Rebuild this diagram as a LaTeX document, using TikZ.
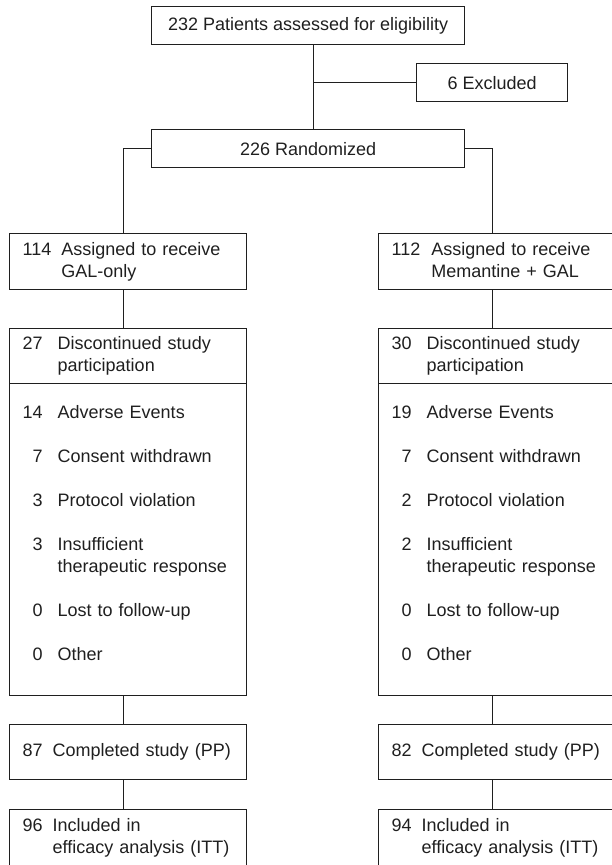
\documentclass[tikz,border=0pt]{standalone}
\usepackage{fontspec}
\setmainfont{Liberation Sans}
\usetikzlibrary{calc}
\definecolor{ink}{HTML}{1F1F1F}
\tikzset{% styles for the boxes and the lines between them
  box/.style={draw=ink, text=ink, line width=1.4pt, anchor=north west,
    inner xsep=13pt, inner ysep=0pt, font=\fontsize{18}{22}\selectfont},
  colbox/.style={box, text width=211pt, align=left},
  link/.style={draw=ink, line width=1.4pt}
}

\begin{document}
\begin{tikzpicture}[x=1pt, y=-1pt]
\useasboundingbox (0,0) rectangle (611,865);

% screening and randomisation
\node[box, minimum width=313pt, minimum height=38pt] (elig) at (151,6) {232 Patients assessed for eligibility};
\node[box, minimum width=151pt, minimum height=38pt] (excl) at (416,63) {6 Excluded};
\node[box, minimum width=313pt, minimum height=38pt] (rand) at (151,129) {226 Randomized};
\coordinate (stem) at ([xshift=5pt]elig.south);

% left arm
\node[colbox, minimum height=56pt] (galAssign) at (9,233)
  {\begin{tabular}{@{}r@{\hspace{10pt}}l@{}}114 & Assigned to receive\\ & GAL-only\end{tabular}};
\node[colbox, minimum height=55pt] (galDisc) at (9,328)
  {\begin{tabular}{@{}r@{\hspace{15pt}}l@{}}27 & Discontinued study\\ & participation\end{tabular}};
\node[colbox, inner ysep=19pt] (galWhy) at (9,383)
  {\begin{tabular}{@{}r@{\hspace{15pt}}l@{}}
   14 & Adverse Events\\[22pt]
   7 & Consent withdrawn\\[22pt]
   3 & Protocol violation\\[22pt]
   3 & Insufficient\\
     & therapeutic response\\[22pt]
   0 & Lost to follow-up\\[22pt]
   0 & Other\\[10pt]
  \end{tabular}};
\node[colbox, minimum height=55pt] (galPP) at (9,724)
  {\begin{tabular}{@{}r@{\hspace{10pt}}l@{}}87 & Completed study (PP)\end{tabular}};
\node[colbox, minimum height=57pt] (galITT) at (9,809)
  {\begin{tabular}{@{}r@{\hspace{10pt}}l@{}}96 & Included in\\ & efficacy analysis (ITT)\end{tabular}};

% right arm
\node[colbox, minimum height=56pt] (memAssign) at (378,233)
  {\begin{tabular}{@{}r@{\hspace{11pt}}l@{}}112 & Assigned to receive\\ & Memantine + GAL\end{tabular}};
\node[colbox, minimum height=55pt] (memDisc) at (378,328)
  {\begin{tabular}{@{}r@{\hspace{15pt}}l@{}}30 & Discontinued study\\ & participation\end{tabular}};
\node[colbox, inner ysep=19pt] (memWhy) at (378,383)
  {\begin{tabular}{@{}r@{\hspace{15pt}}l@{}}
   19 & Adverse Events\\[22pt]
   7 & Consent withdrawn\\[22pt]
   2 & Protocol violation\\[22pt]
   2 & Insufficient\\
     & therapeutic response\\[22pt]
   0 & Lost to follow-up\\[22pt]
   0 & Other\\[10pt]
  \end{tabular}};
\node[colbox, minimum height=55pt] (memPP) at (378,724)
  {\begin{tabular}{@{}r@{\hspace{10pt}}l@{}}82 & Completed study (PP)\end{tabular}};
\node[colbox, minimum height=57pt] (memITT) at (378,809)
  {\begin{tabular}{@{}r@{\hspace{10pt}}l@{}}94 & Included in\\ & efficacy analysis (ITT)\end{tabular}};

% connecting lines
\draw[link] (stem) -- (stem |- rand.north);
\draw[link] (excl.west) -- (excl.west -| stem);
\draw[link] (rand.west) -| ([xshift=-5pt]galAssign.north);
\draw[link] (rand.east) -| ([xshift=-5pt]memAssign.north);
\foreach \arm in {gal,mem} {
  \draw[link] ([xshift=-5pt]\arm Assign.south) -- ([xshift=-5pt]\arm Disc.north);
  \draw[link] ([xshift=-5pt]\arm Why.south) -- ([xshift=-5pt]\arm PP.north);
  \draw[link] ([xshift=-5pt]\arm PP.south) -- ([xshift=-5pt]\arm ITT.north);
}
\end{tikzpicture}
\end{document}
